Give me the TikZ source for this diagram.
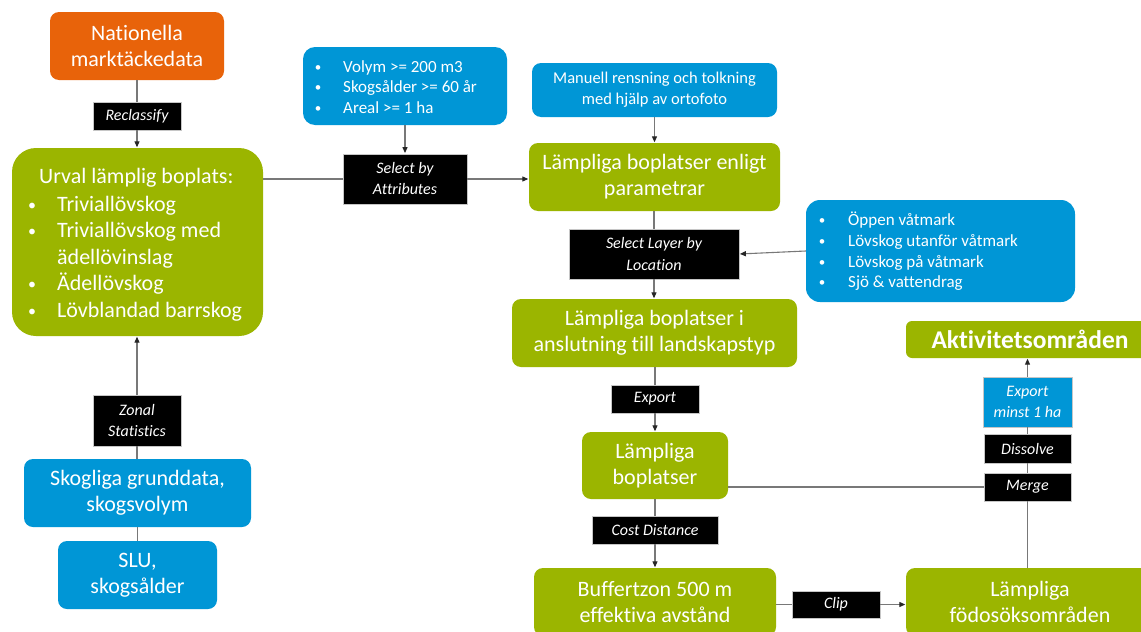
\documentclass[tikz,border=0pt]{standalone}
\usepackage{fontspec}
\setmainfont{Carlito}[Ligatures={NoCommon}]
\usetikzlibrary{arrows.meta}
\definecolor{grn}{RGB}{155,181,0}
\definecolor{org}{RGB}{232,99,10}
\definecolor{blu}{RGB}{0,150,214}
\definecolor{lin}{RGB}{120,120,120}
\tikzset{
  box/.style={inner sep=0pt, text=white, align=center, rounded corners=9pt},
  big/.style={font=\fontsize{22}{26}\selectfont},
  gbox/.style={box, big, fill=grn},
  obox/.style={box, big, fill=org},
  bbox/.style={box, big, fill=blu},
  lbl/.style={inner sep=0pt, fill=black, draw=gray!45, line width=0.8pt, text=white, align=center, font=\fontsize{16}{21}\selectfont\itshape},
  conn/.style={draw=lin, line width=1.1pt},
  arr/.style={conn, -{Triangle[length=6pt,width=5pt,color=black!85]}, shorten >=0.5pt},
  bul/.style={inner sep=0pt, text=white, anchor=base, font=\fontsize{13}{16}\selectfont},
  bbul/.style={bul, font=\fontsize{16}{16}\selectfont},
  stxt/.style={inner sep=0pt, text=white, anchor=base west, font=\fontsize{17}{20}\selectfont},
  btxt/.style={inner sep=0pt, text=white, anchor=base west, big},
}
\begin{document}
\begin{tikzpicture}[x=1pt,y=-1pt]
\useasboundingbox (0,0) rectangle (1141,632);
\fill[white] (0,0) rectangle (1141,632);

% left column
\node[obox, minimum width=174pt, minimum height=68pt] (nat) at (137,46) {Nationella\\marktäckedata};
\node[lbl, minimum width=88pt, minimum height=28pt] (recl) at (137,116) {Reclassify};
\node[gbox, rounded corners=24pt, minimum width=251pt, minimum height=188pt] (urv) at (137.5,242) {};
\node[btxt] (u0) at (39,183.5) {Urval lämplig boplats:};
\node[bbul] (ub1) at (32,210) {•};
\node[btxt] (u1) at (57,211) {Triviallövskog};
\node[bbul] (ub2) at (32,236.5) {•};
\node[btxt] (u2) at (57,237.5) {Triviallövskog med};
\node[btxt] (u3) at (57,264) {ädellövinslag};
\node[bbul] (ub4) at (32,289.5) {•};
\node[btxt] (u4) at (57,290.5) {Ädellövskog};
\node[bbul] (ub5) at (32,316) {•};
\node[btxt] (u5) at (57,317) {Lövblandad barrskog};
\node[lbl, minimum width=88pt, minimum height=51pt] (zon) at (137,420.5) {Zonal\\Statistics};
\node[bbox, minimum width=227pt, minimum height=68pt] (skg) at (137.5,493) {Skogliga grunddata,\\skogsvolym};
\node[bbox, minimum width=159pt, minimum height=68pt] (slu) at (137.5,575) {SLU,\\skogsålder};

% middle top
\node[bbox, rounded corners=12pt, minimum width=204pt, minimum height=78pt] (vol) at (405,86) {};
\node[bul] (vb1) at (318,71) {•};
\node[stxt] (v1) at (343,72) {Volym >= 200 m3};
\node[bul] (vb2) at (318,91.5) {•};
\node[stxt] (v2) at (343,92.5) {Skogsålder >= 60 år};
\node[bul] (vb3) at (318,112) {•};
\node[stxt] (v3) at (343,113) {Areal >= 1 ha};
\node[lbl, minimum width=124pt, minimum height=50pt] (sba) at (405,179) {Select by\\Attributes};

% right column
\node[bbox, font=\fontsize{16.5}{21}\selectfont, minimum width=245pt, minimum height=54pt] (man) at (654.5,90) {Manuell rensning och tolkning\\med hjälp av ortofoto};
\node[gbox, minimum width=251pt, minimum height=68pt] (lbe) at (654.5,177) {Lämpliga boplatser enligt\\parametrar};
\node[lbl, minimum width=170pt, minimum height=50pt] (sll) at (654,254) {Select Layer by\\Location};
\node[bbox, rounded corners=14pt, minimum width=269pt, minimum height=102pt] (opp) at (940.5,251) {};
\node[bul] (ob1) at (822,224) {•};
\node[stxt] (o1) at (848,225) {Öppen våtmark};
\node[bul] (ob2) at (822,245) {•};
\node[stxt] (o2) at (848,246) {Lövskog utanför våtmark};
\node[bul] (ob3) at (822,266) {•};
\node[stxt] (o3) at (848,267) {Lövskog på våtmark};
\node[bul] (ob4) at (822,286.5) {•};
\node[stxt] (o4) at (848,287.5) {Sjö \& vattendrag};
\node[gbox, minimum width=285pt, minimum height=68pt] (ans) at (654.5,333) {Lämpliga boplatser i\\anslutning till landskapstyp};
\node[lbl, minimum width=88pt, minimum height=28pt] (exp) at (655,399) {Export};
\node[gbox, minimum width=146pt, minimum height=67pt] (lbo) at (655,465.5) {Lämpliga\\boplatser};
\node[lbl, minimum width=126pt, minimum height=28pt] (cod) at (655,530) {Cost Distance};
\node[gbox, minimum width=242pt, minimum height=68pt] (buf) at (655,602) {Buffertzon 500 m\\effektiva avstånd};
\node[lbl, minimum width=88pt, minimum height=27pt] (clp) at (836,604.5) {Clip};
\node[gbox, minimum width=248pt, minimum height=68pt] (fod) at (1030,602) {Lämpliga\\födosöksområden};
\node[lbl, minimum width=87pt, minimum height=28pt] (mrg) at (1027.5,487) {Merge};
\node[lbl, minimum width=87pt, minimum height=29pt] (dis) at (1027.5,448.5) {Dissolve};
\node[lbl, fill=blu, minimum width=89pt, minimum height=50pt] (exm) at (1027.5,402) {Export\\minst 1 ha};
\node[gbox, rounded corners=6pt, font=\fontsize{25.5}{28}\selectfont\bfseries, minimum width=248pt, minimum height=37pt] (akt) at (1030,339.5) {Aktivitetsområden};

% connectors
\draw[conn] (nat.south) -- (recl.north);
\draw[arr] (recl.south) -- (urv.north -| recl.south);
\draw[conn] (slu.north) -- (skg.south);
\draw[conn] (skg.north -| zon.south) -- (zon.south);
\draw[arr] (zon.north) -- (urv.south -| zon.north);
\draw[conn] (urv.east |- sba.west) -- (sba.west);
\draw[arr] (sba.east) -- (lbe.west |- sba.east);
\draw[arr] (vol.south) -- (sba.north);
\draw[arr] (man.south) -- (lbe.north);
\draw[conn] (lbe.south -| sll.north) -- (sll.north);
\draw[arr] (sll.south) -- (ans.north -| sll.south);
\draw[arr] (opp.west) -- (sll.east);
\draw[conn] (ans.south -| exp.north) -- (exp.north);
\draw[arr] (exp.south) -- (lbo.north);
\draw[conn] (lbo.south) -- (cod.north);
\draw[arr] (cod.south) -- (buf.north);
\draw[conn] (buf.east |- clp.west) -- (clp.west);
\draw[arr] (clp.east) -- (fod.west |- clp.east);
\draw[conn] (lbo.east |- mrg.west) -- (mrg.west);
\draw[conn] (fod.north -| mrg.south) -- (mrg.south);
\draw[conn] (mrg.north) -- (dis.south);
\draw[conn] (dis.north) -- (exm.south);
\draw[arr] (exm.north) -- (akt.south -| exm.north);
\end{tikzpicture}
\end{document}
